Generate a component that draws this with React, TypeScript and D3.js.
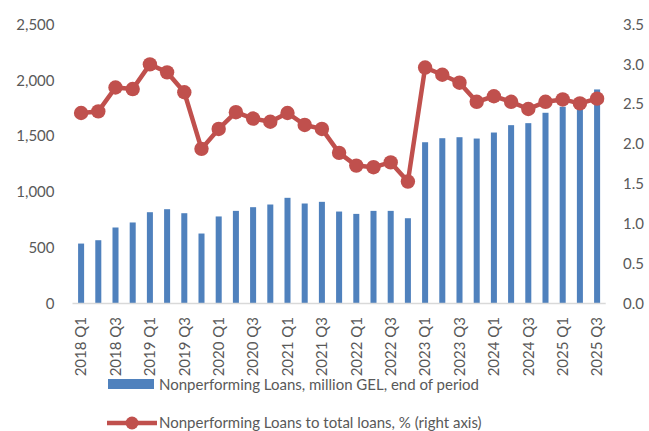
import React from "react";
import * as d3 from "d3";

const categories: string[] = [];
const years = [2018, 2019, 2020, 2021, 2022, 2023, 2024, 2025];
years.forEach((y) => {
  for (let q = 1; q <= 4; q++) {
    if (y === 2025 && q > 3) break;
    categories.push(`${y} Q${q}`);
  }
});

const npl: number[] = [
  537, 567, 681, 726, 818, 845, 809, 627, 780, 830, 863, 887, 947, 896, 911, 824,
  803, 830, 830, 764, 1445, 1481, 1490, 1478, 1532, 1598, 1616, 1709, 1763, 1790, 1918,
];

const nplRatio: number[] = [
  2.39, 2.41, 2.71, 2.69, 3.0, 2.9, 2.65, 1.94, 2.19, 2.4, 2.32, 2.28, 2.39, 2.24, 2.19, 1.89,
  1.73, 1.71, 1.77, 1.53, 2.96, 2.87, 2.77, 2.53, 2.6, 2.53, 2.44, 2.53, 2.56, 2.51, 2.57,
];

const leftTicks = [0, 500, 1000, 1500, 2000, 2500];
const rightTicks = [0, 0.5, 1, 1.5, 2, 2.5, 3, 3.5];

const barLabel = "Nonperforming Loans, million GEL, end of period";
const lineLabel = "Nonperforming Loans to total loans, % (right axis)";

const W = 649;
const H = 431;
const plot = { left: 72.5, right: 605.7, top: 24.5, bottom: 303.5 };
const FONT = "Lato, 'Liberation Sans', sans-serif";
const TEXT = "#595959";
const BLUE = "#4F81BD";
const RED = "#C0504D";

export default function App() {
  const x = d3
    .scaleBand<string>()
    .domain(categories)
    .range([plot.left, plot.right])
    .paddingInner(0.65)
    .paddingOuter(0.325);
  const yL = d3.scaleLinear().domain([0, 2500]).range([plot.bottom, plot.top]);
  const yR = d3.scaleLinear().domain([0, 3.5]).range([plot.bottom, plot.top]);
  const cx = (c: string) => (x(c) ?? 0) + x.bandwidth() / 2;

  const line = d3
    .line<number>()
    .x((_, i) => cx(categories[i]))
    .y((d) => yR(d));

  return (
    <svg
      width={W}
      height={H}
      style={{ position: "absolute", left: 0, top: 0, background: "#fff" }}
      fontFamily={FONT}
    >
      {/* left axis labels */}
      {leftTicks.map((t) => (
        <text
          key={"l" + t}
          x={54.5}
          y={yL(t)}
          dy="0.35em"
          textAnchor="end"
          fontSize={15}
          fill={TEXT}
        >
          {d3.format(",")(t)}
        </text>
      ))}
      {/* right axis labels */}
      {rightTicks.map((t) => (
        <text
          key={"r" + t}
          x={623}
          y={yR(t)}
          dy="0.35em"
          textAnchor="start"
          fontSize={15}
          fill={TEXT}
        >
          {d3.format(".1f")(t)}
        </text>
      ))}
      {/* bars */}
      {npl.map((v, i) => (
        <rect
          key={"b" + i}
          x={x(categories[i])}
          y={yL(v)}
          width={x.bandwidth()}
          height={yL(0) - yL(v)}
          fill={BLUE}
        />
      ))}
      {/* axis line */}
      <line
        x1={plot.left}
        x2={plot.right}
        y1={plot.bottom}
        y2={plot.bottom}
        stroke="#D9D9D9"
        strokeWidth={1.5}
      />
      {/* line series */}
      <path d={line(nplRatio) ?? ""} fill="none" stroke={RED} strokeWidth={4.5} strokeLinejoin="round" />
      {nplRatio.map((v, i) => (
        <circle key={"c" + i} cx={cx(categories[i])} cy={yR(v)} r={7.2} fill={RED} />
      ))}
      {/* x labels */}
      {categories.map((c, i) =>
        i % 2 === 0 ? (
          <text
            key={"x" + c}
            transform={`translate(${cx(c)},${317}) rotate(-90)`}
            dy="0.35em"
            textAnchor="end"
            fontSize={15}
            fill={TEXT}
          >
            {c}
          </text>
        ) : null
      )}
      {/* legend */}
      <rect x={108} y={379} width={46} height={10} fill={BLUE} />
      <text x={159} y={385} dy="0.35em" fontSize={15} fill={TEXT}>
        {barLabel}
      </text>
      <line x1={107} x2={157} y1={423} y2={423} stroke={RED} strokeWidth={4.5} />
      <circle cx={132} cy={423} r={6.5} fill={RED} />
      <text x={159} y={423} dy="0.35em" fontSize={15} fill={TEXT}>
        {lineLabel}
      </text>
    </svg>
  );
}
